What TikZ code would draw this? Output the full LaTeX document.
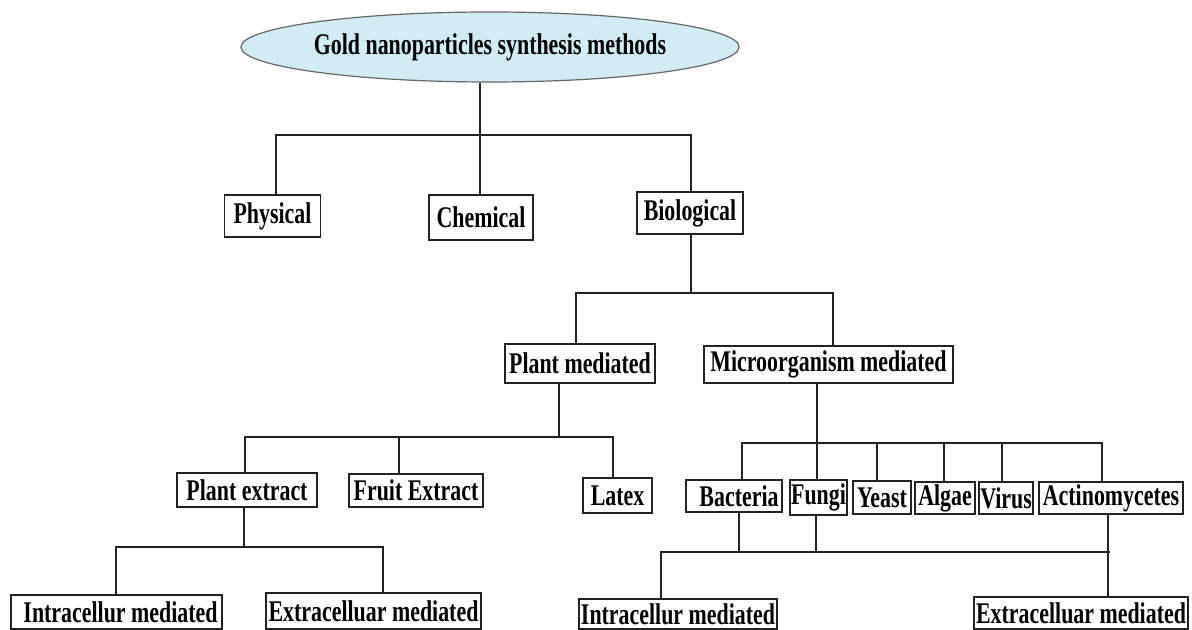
\documentclass[tikz,border=0pt]{standalone}
\usepackage{fontspec}
\newfontfamily\lab{Liberation Serif}[FakeStretch=0.73]
\usetikzlibrary{shapes.geometric}
\definecolor{rootfill}{HTML}{D2ECF5}
\definecolor{linec}{HTML}{222222}
\tikzset{
  lbl/.style={font=\lab\bfseries\fontsize{15pt}{17pt}\selectfont, text=black, inner sep=0pt},
  box/.style={lbl, draw=linec, line width=0.95pt, fill=white},
  rootnode/.style={lbl, ellipse, draw=gray!80!black, line width=0.6pt, fill=rootfill},
  conn/.style={draw=linec, line width=0.8pt}
}
\begin{document}
\begin{tikzpicture}[x=0.5pt, y=-0.5pt]
\useasboundingbox[fill=white] (0,0) rectangle (1192,630);

% root
\node[rootnode, minimum width=202pt, minimum height=35pt] (root) at (490,47) {Gold nanoparticles synthesis methods};

% level 1
\node[box, minimum width=48pt, minimum height=21pt] (phys) at (272.5,216) {Physical};
\node[box, minimum width=52pt, minimum height=22.5pt] (chem) at (481,217.5) {Chemical};
\node[box, minimum width=53pt, minimum height=21pt] (bio) at (690,213) {Biological};

% level 2
\node[box, minimum width=75pt, minimum height=19.5pt] (plant) at (580,363.5) {Plant mediated};
\node[box, minimum width=124.5pt, minimum height=18.5pt] (micro) at (828.5,364.5) {Microorganism mediated};

% level 3 plant
\node[box, minimum width=70pt, minimum height=17pt] (pext) at (247,490) {Plant extract};
\node[box, minimum width=67pt, minimum height=16.5pt] (fext) at (416,490.5) {Fruit Extract};
\node[box, minimum width=34.5pt, minimum height=17.5pt] (latex) at (617.5,495.5) {Latex};

% level 3 micro
\node[box, minimum width=48pt, minimum height=16pt] (bact) at (734,496) {\hspace{5pt}Bacteria};
\node[box, minimum width=28.5pt, minimum height=17.5pt] (fungi) at (818.5,497.5) {Fungi};
\node[box, minimum width=29pt, minimum height=16.5pt] (yeast) at (882,497.5) {Yeast};
\node[box, minimum width=30pt, minimum height=16pt] (algae) at (945,498) {Algae};
\node[box, minimum width=27pt, minimum height=16pt] (virus) at (1006,498) {Virus};
\node[box, minimum width=72pt, minimum height=16pt] (actino) at (1111,498) {Actinomycetes};

% level 4
\node[box, minimum width=105.5pt, minimum height=17pt] (intraL) at (116.5,612) {\hspace{4pt}Intracellur mediated};
\node[box, minimum width=107.5pt, minimum height=18pt] (extraL) at (373.5,611) {Extracelluar mediated};
\node[box, minimum width=99pt, minimum height=15pt] (intraR) at (678,614) {Intracellur mediated};
\node[box, minimum width=107pt, minimum height=16pt] (extraR) at (1081,613) {Extracelluar mediated};

% bus coordinates
\coordinate (j1) at (480,135);
\coordinate (j2) at (691,293);
\coordinate (j3) at (559,437);
\coordinate (j4) at (817,443);
\coordinate (j5) at (244,547);
\coordinate (j6) at (816,552);

% connectors level 1
\draw[conn] (root.south -| j1) -- (j1);
\draw[conn] (phys.north -| 276,0) |- (j1) -| (bio.north -| 691,0);
\draw[conn] (chem.north -| j1) -- (j1);

% level 2
\draw[conn] (bio.south -| j2) -- (j2);
\draw[conn] (plant.north -| 576,0) |- (j2) -| (micro.north -| 833,0);

% plant branch
\draw[conn] (plant.south -| j3) -- (j3);
\draw[conn] (pext.north -| 245,0) |- (j3) -| (latex.north -| 613,0);
\draw[conn] (fext.north -| 399,0) -- (399,437);

% micro branch
\draw[conn] (micro.south -| j4) -- (j4);
\draw[conn] (fungi.north -| j4) -- (j4);
\draw[conn] (bact.north -| 742,0) |- (j4) -| (actino.north -| 1102,0);
\draw[conn] (yeast.north -| 877,0) -- (877,443);
\draw[conn] (algae.north -| 944,0) -- (944,443);
\draw[conn] (virus.north -| 1002,0) -- (1002,443);

% plant extract children
\draw[conn] (pext.south -| j5) -- (j5);
\draw[conn] (intraL.north -| 116,0) |- (j5) -| (extraL.north -| 383,0);

% micro children
\draw[conn] (intraR.north -| 661,0) |- (1110,552);
\draw[conn] (fungi.south -| j6) -- (j6);
\draw[conn] (bact.south -| 739,0) -- (739,552);
\draw[conn] (actino.south -| 1108,0) -- (extraR.north -| 1108,0);
\end{tikzpicture}
\end{document}
